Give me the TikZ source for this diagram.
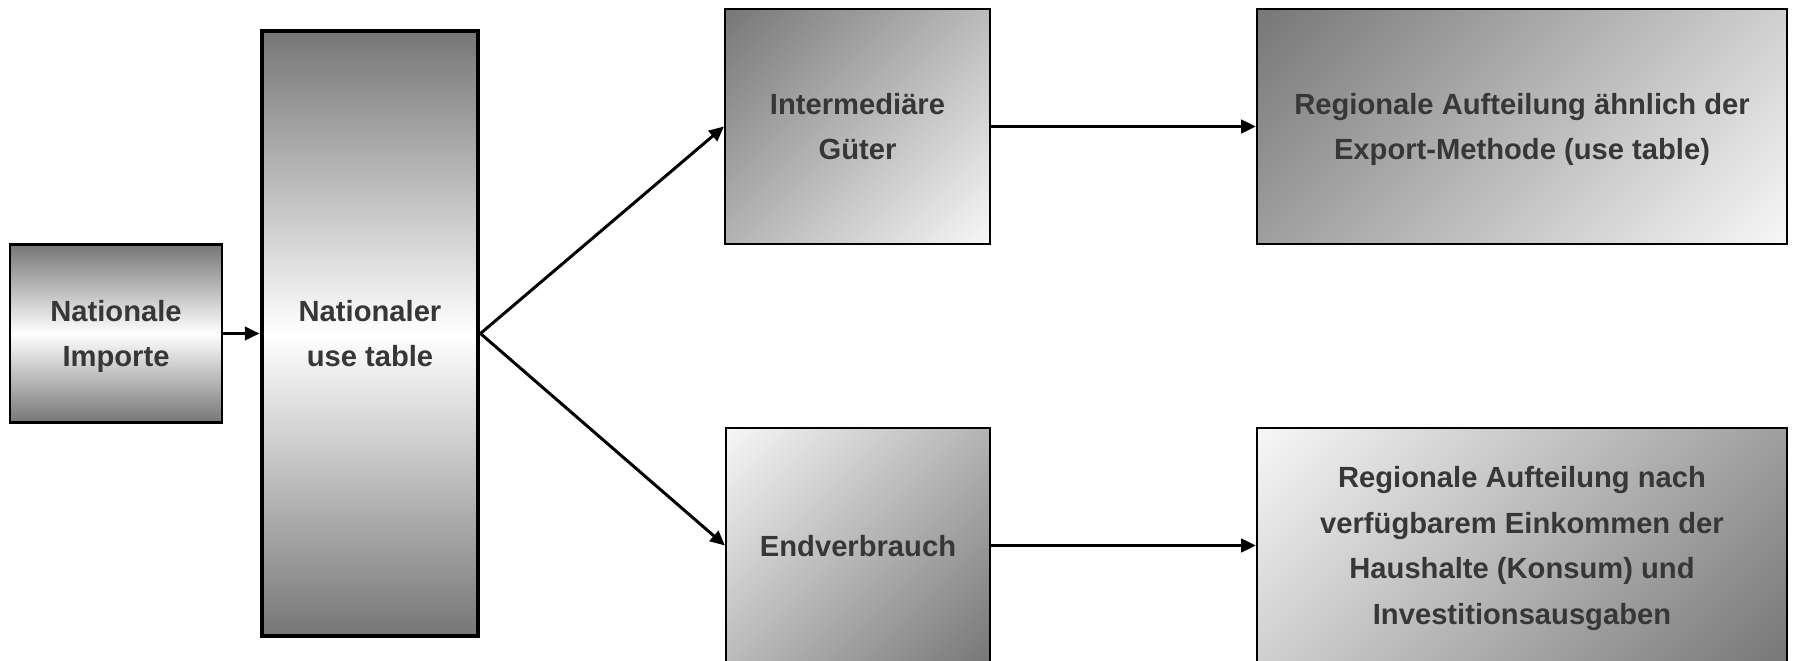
\documentclass[tikz,border=0pt]{standalone}
\usepackage{fontspec}
\setmainfont{Liberation Sans}
\usetikzlibrary{arrows.meta}
\definecolor{boxdark}{RGB}{118,118,118}
\definecolor{boxlight}{RGB}{248,248,248}
\definecolor{boxtext}{RGB}{55,55,55}
\pgfdeclareverticalshading{darkcorner}{100bp}{color(0bp)=(boxlight); color(14bp)=(boxlight); color(86bp)=(boxdark); color(100bp)=(boxdark)}
\pgfdeclareverticalshading{lightcorner}{100bp}{color(0bp)=(boxdark); color(14bp)=(boxdark); color(86bp)=(boxlight); color(100bp)=(boxlight)}

\begin{document}
\begin{tikzpicture}[
    box/.style={draw=black, line width=0.6pt, align=center, text=boxtext,
      font=\fontsize{8.3}{13}\selectfont\bfseries, inner sep=0pt, text depth=-1pt},
    vshade/.style={box, top color=boxdark, bottom color=boxdark, middle color=white},
    dshade/.style={box, shading=darkcorner, shading angle=45},
    ushade/.style={box, shading=lightcorner, shading angle=45},
    flow/.style={-{Triangle[length=4.2pt,width=3.8pt]}, line width=0.85pt}
  ]
    \useasboundingbox (0,0) rectangle (17.95,6.60);

    \node[vshade, minimum width=2.12cm, minimum height=1.78cm] (importe) at (1.16,3.265) {Nationale\\Importe};
    \node[vshade, line width=1.4pt, minimum width=2.16cm, minimum height=6.05cm] (usetab) at (3.70,3.265) {Nationaler\\use table};

    \node[dshade, minimum width=2.65cm, minimum height=2.35cm] (zwgut) at (8.575,5.335) {Intermediäre\\Güter};
    \node[dshade, minimum width=5.30cm, minimum height=2.35cm] (regzw) at (15.22,5.335) {Regionale Aufteilung ähnlich der\\Export-Methode (use table)};
    \node[ushade, minimum width=2.64cm, minimum height=2.35cm] (endv) at (8.58,1.145) {Endverbrauch};
    \node[ushade, minimum width=5.30cm, minimum height=2.35cm] (regend) at (15.22,1.145) {Regionale Aufteilung nach\\verfügbarem Einkommen der\\Haushalte (Konsum) und\\Investitionsausgaben};

    %\draw[loosely dotted] (0,0) grid (18,7);
    \draw[flow] (importe) -- (usetab);
    \draw[flow] (usetab.east) -- (zwgut.west);
    \draw[flow] (usetab.east) -- (endv.west);
    \draw[flow] (zwgut) -- (regzw);
    \draw[flow] (endv) -- (regend);
\end{tikzpicture}
\end{document}
